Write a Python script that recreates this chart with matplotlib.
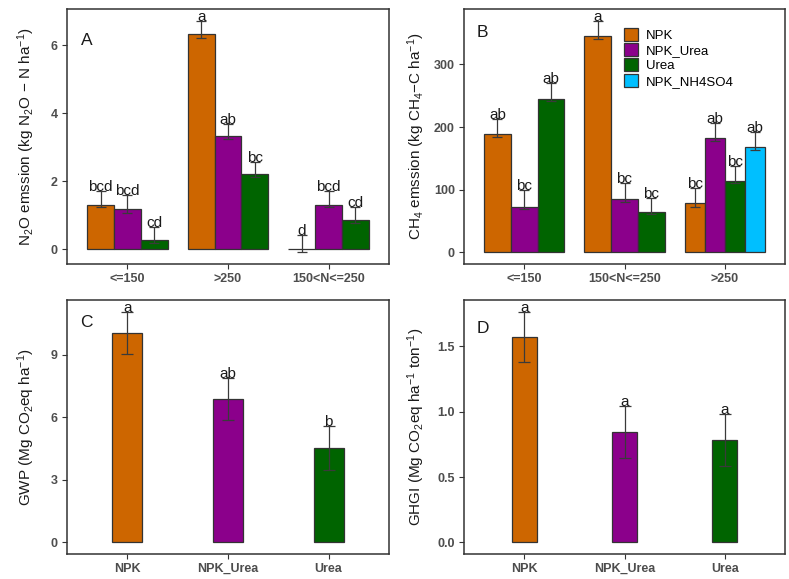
import numpy as np
import matplotlib
matplotlib.use("Agg")
import matplotlib.pyplot as plt
from matplotlib.patches import Patch

plt.rcParams["font.family"] = ["Liberation Sans", "DejaVu Sans"]
plt.rcParams["mathtext.fontset"] = "custom"
plt.rcParams["mathtext.rm"] = "Liberation Sans"
plt.rcParams["mathtext.it"] = "Liberation Sans:italic"
plt.rcParams["mathtext.bf"] = "Liberation Sans:bold"

# ---- data ----
series = ["NPK", "NPK_Urea", "Urea", "NPK_NH4SO4"]
colors = {"NPK": "#CD6600", "NPK_Urea": "#8B008B", "Urea": "#006400", "NPK_NH4SO4": "#00BFFF"}

# panel A: N2O
n2o_groups = ["<=150", ">250", "150<N<=250"]
n2o_mean = {"NPK": [1.31, 6.33, 0.0], "NPK_Urea": [1.18, 3.33, 1.31], "Urea": [0.28, 2.20, 0.85]}
n2o_lo = {"NPK": [1.23, 6.23, -0.10], "NPK_Urea": [1.05, 3.23, 1.23], "Urea": [0.17, 2.13, 0.76]}
n2o_hi = {"NPK": [1.71, 6.73, 0.41], "NPK_Urea": [1.59, 3.68, 1.71], "Urea": [0.66, 2.55, 1.23]}
n2o_lab = {"NPK": ["bcd", "a", "d"], "NPK_Urea": ["bcd", "ab", "bcd"], "Urea": ["cd", "bc", "cd"]}

# panel B: CH4
ch4_groups = ["<=150", "150<N<=250", ">250"]
ch4_mean = {"NPK": [189, 345, 78.6], "NPK_Urea": [72.5, 85, 182.5], "Urea": [245, 64.5, 114],
            "NPK_NH4SO4": [np.nan, np.nan, 167.5]}
ch4_lo = {"NPK": [185, 340, 73], "NPK_Urea": [69, 80, 178], "Urea": [241, 61, 110.5],
          "NPK_NH4SO4": [np.nan, np.nan, 163]}
ch4_hi = {"NPK": [213, 370, 103], "NPK_Urea": [99, 110.5, 207], "Urea": [270, 87.5, 137.5],
          "NPK_NH4SO4": [np.nan, np.nan, 192]}
ch4_lab = {"NPK": ["ab", "a", "bc"], "NPK_Urea": ["bc", "bc", "ab"], "Urea": ["ab", "bc", "bc"],
           "NPK_NH4SO4": ["", "", "ab"]}

# panel C: GWP, panel D: GHGI
trt = ["NPK", "NPK_Urea", "Urea"]
gwp_mean = [10.03, 6.87, 4.54]
gwp_lo = [9.03, 5.87, 3.49]
gwp_hi = [11.08, 7.90, 5.59]
gwp_lab = ["a", "ab", "b"]
ghgi_mean = [1.569, 0.842, 0.786]
ghgi_lo = [1.383, 0.643, 0.582]
ghgi_hi = [1.765, 1.046, 0.982]
ghgi_lab = ["a", "a", "a"]

EDGE = "#333333"
ERR = "#3a3a3a"
TICKC = "#4D4D4D"


def style_axes(ax, ticks, ticklabels, ylabel, letter, letter_xy, ylab_x):
    for s in ax.spines.values():
        s.set_color("#333333")
        s.set_linewidth(1.1)
    ax.tick_params(axis="both", length=3.5, width=0.8, color="#333333", labelcolor=TICKC,
                   labelsize=9, pad=3)
    for lab in ax.get_xticklabels() + ax.get_yticklabels():
        lab.set_fontweight("bold")
    ax.set_yticks(ticks)
    ax.set_yticklabels(ticklabels, fontweight="bold")
    ax.set_xlim(0.4, 3.6)
    ax.set_ylabel(ylabel, fontsize=11, color="#1a1a1a")
    ax.yaxis.set_label_coords(ylab_x, 0.5)
    ax.text(letter_xy[0], letter_xy[1], letter, transform=ax.transAxes, fontsize=12.5,
            ha="center", va="center", color="#1a1a1a")


def expand(lo_vals, hi_vals):
    lo = min(0.0, np.nanmin(lo_vals))
    hi = np.nanmax(hi_vals)
    pad = (hi - lo) * 0.05
    return lo - pad, hi + pad


def grouped(ax, groups, mean, lo, hi, lab, names, capsize=3.6):
    for gi, g in enumerate(groups):
        present = [s for s in names if not np.isnan(mean[s][gi])]
        w = 0.8 / len(present)
        for k, s in enumerate(present):
            x = gi + 1 - 0.4 + w * (k + 0.5)
            m = mean[s][gi]
            ax.bar(x, m, width=w, color=colors[s], edgecolor=EDGE, linewidth=0.9, zorder=2)
            ax.errorbar(x, m, yerr=[[m - lo[s][gi]], [hi[s][gi] - m]], fmt="none", ecolor=ERR,
                        elinewidth=0.9, capsize=capsize, capthick=0.9, zorder=3)
            ax.text(x, hi[s][gi], lab[s][gi], ha="center", va="baseline", fontsize=11,
                    color="#1a1a1a", zorder=4)
    ax.set_xticks(np.arange(1, len(groups) + 1))
    ax.set_xticklabels(groups)


def simple(ax, mean, lo, hi, lab, width, capsize):
    x = np.arange(1, len(trt) + 1)
    ax.bar(x, mean, width=width, color=[colors[t] for t in trt], edgecolor=EDGE,
           linewidth=0.9, zorder=2)
    m = np.array(mean)
    ax.errorbar(x, m, yerr=[m - np.array(lo), np.array(hi) - m], fmt="none", ecolor=ERR,
                elinewidth=0.9, capsize=capsize, capthick=0.9, zorder=3)
    for xi, h, t in zip(x, hi, lab):
        ax.text(xi, h, t, ha="center", va="baseline", fontsize=11, color="#1a1a1a", zorder=4)
    ax.set_xticks(x)
    ax.set_xticklabels(trt)


W, H = 789, 579
fig = plt.figure(figsize=(W / 100, H / 100), dpi=100)
axA = fig.add_axes([67 / W, (H - 264) / H, 322 / W, 255 / H])
axB = fig.add_axes([464 / W, (H - 264) / H, 321 / W, 255 / H])
axC = fig.add_axes([67 / W, (H - 554) / H, 322 / W, 254 / H])
axD = fig.add_axes([464 / W, (H - 554) / H, 321 / W, 254 / H])

# A
grouped(axA, n2o_groups, n2o_mean, n2o_lo, n2o_hi, n2o_lab, series[:3])
axA.set_ylim(*expand([v for s in n2o_lo for v in n2o_lo[s]], [v for s in n2o_hi for v in n2o_hi[s]]))
style_axes(axA, [0, 2, 4, 6], ["0", "2", "4", "6"],
           r"N$_2$O emssion (kg N$_2$O$\,-\,$N ha$^{-1}$)", "A", (0.062, 0.878), -0.093)

# B
grouped(axB, ch4_groups, ch4_mean, ch4_lo, ch4_hi, ch4_lab, series)
axB.set_ylim(*expand([v for s in ch4_lo for v in ch4_lo[s]], [v for s in ch4_hi for v in ch4_hi[s]]))
style_axes(axB, [0, 100, 200, 300], ["0", "100", "200", "300"],
           r"CH$_4$ emssion (kg CH$_4$$-$C ha$^{-1}$)", "B", (0.056, 0.906), -0.115)
handles = [Patch(facecolor=colors[s], edgecolor=EDGE, linewidth=0.9) for s in series]
axB.legend(handles, series, loc="upper left", bbox_to_anchor=(0.498, 0.927), frameon=False,
           fontsize=9.5, handlelength=1.05, handleheight=1.15, labelspacing=0.1,
           handletextpad=0.6, borderpad=0, borderaxespad=0)

# C
simple(axC, gwp_mean, gwp_lo, gwp_hi, gwp_lab, 0.3, 4.3)
axC.set_ylim(*expand(gwp_lo, gwp_hi))
style_axes(axC, [0, 3, 6, 9], ["0", "3", "6", "9"],
           r"GWP (Mg CO$_2$eq ha$^{-1}$)", "C", (0.059, 0.91), -0.093)

# D
simple(axD, ghgi_mean, ghgi_lo, ghgi_hi, ghgi_lab, 0.25, 4.3)
axD.set_ylim(*expand(ghgi_lo, ghgi_hi))
style_axes(axD, [0.0, 0.5, 1.0, 1.5], ["0.0", "0.5", "1.0", "1.5"],
           r"GHGI (Mg CO$_2$eq ha$^{-1}$ ton$^{-1}$)", "D", (0.059, 0.886), -0.115)

fig.savefig("out.png", dpi=100)
plt.close(fig)
